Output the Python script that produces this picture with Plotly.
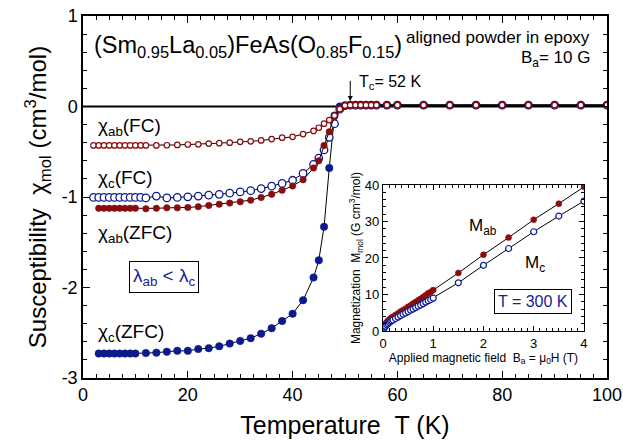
import plotly.graph_objects as go

# ---------------- data (main panel) ----------------
T_fc = [2, 3, 4, 5, 6, 7, 8, 9, 10, 11, 12,
        14, 16, 18, 20, 22, 24, 26, 28, 30, 32, 34, 36, 38, 40, 42, 44,
        45, 46, 47, 48, 49, 50, 51, 52, 53, 54, 55, 56, 58, 60,
        65, 70, 75, 80, 85, 90, 95, 100]
T_zfc = [3, 4, 5, 6, 7, 8, 9, 10, 12,
         14, 16, 18, 20, 22, 24, 26, 28, 30, 32, 34, 36, 38, 40, 42, 44,
         45, 46, 47, 48, 49, 50, 51, 52, 53, 54, 55, 56, 58, 60,
         65, 70, 75, 80, 85, 90, 95, 100]

chi_ab_fc = [-0.43, -0.43, -0.43, -0.43, -0.43, -0.43, -0.43, -0.43, -0.43, -0.43, -0.43,
             -0.43, -0.428, -0.425, -0.42, -0.418, -0.41, -0.405, -0.40, -0.39, -0.385, -0.375,
             -0.36, -0.345, -0.335, -0.305, -0.27,
             -0.235, -0.19, -0.15, -0.10, -0.03, 0.01, 0.015, 0.015, 0.015, 0.015, 0.015, 0.015,
             0.015, 0.015, 0.015, 0.015, 0.015, 0.015, 0.015, 0.015, 0.015, 0.015]
chi_c_fc = [-1.005, -1.005, -1.005, -1.005, -1.005, -1.005, -1.005, -1.005, -1.005, -1.005, -1.01,
            -0.99, -1.01, -1.005, -0.998, -0.99, -0.98, -0.97, -0.958, -0.944, -0.93, -0.907,
            -0.88, -0.85, -0.815, -0.74, -0.64,
            -0.57, -0.48, -0.34, -0.19, -0.03, 0.01, 0.015, 0.015, 0.015, 0.015, 0.015, 0.015,
            0.015, 0.015, 0.015, 0.015, 0.015, 0.015, 0.015, 0.015, 0.015, 0.015]
chi_ab_zfc = [-1.125, -1.125, -1.125, -1.125, -1.125, -1.125, -1.125, -1.125, -1.13,
              -1.125, -1.12, -1.12, -1.115, -1.107, -1.093, -1.08, -1.067, -1.053, -1.035, -1.005,
              -0.97, -0.925, -0.878, -0.81, -0.68,
              -0.60, -0.43, -0.28, -0.11, -0.02, 0.01, 0.015, 0.015, 0.015, 0.015, 0.015, 0.015,
              0.015, 0.015, 0.015, 0.015, 0.015, 0.015, 0.015, 0.015, 0.015, 0.015]
chi_c_zfc = [-2.73, -2.73, -2.73, -2.73, -2.73, -2.73, -2.73, -2.73, -2.725,
             -2.72, -2.71, -2.70, -2.70, -2.68, -2.67, -2.65, -2.62, -2.59, -2.56, -2.51,
             -2.45, -2.37, -2.29, -2.14, -1.89,
             -1.70, -1.33, -0.68, -0.10, 0.0, 0.01, 0.015, 0.015, 0.015, 0.015, 0.015, 0.015,
             0.015, 0.015, 0.015, 0.015, 0.015, 0.015, 0.015, 0.015, 0.015, 0.015]

# ---------------- data (inset) ----------------
B_field = [0.0, 0.01, 0.02, 0.035, 0.05, 0.075, 0.1, 0.125, 0.15, 0.175, 0.2, 0.25, 0.3, 0.35,
           0.4, 0.45, 0.5, 0.55, 0.6, 0.65, 0.7, 0.75, 0.8, 0.85, 0.9, 0.95, 1.0,
           1.5, 2.0, 2.5, 3.0, 3.5, 4.0]
M_ab = [0.5, 1.0, 1.3, 1.7, 2.0, 2.4, 2.8, 3.1, 3.4, 3.65, 3.9, 4.4, 4.8, 5.3,
        5.7, 6.1, 6.6, 7.0, 7.5, 7.9, 8.4, 8.8, 9.3, 9.8, 10.3, 10.7, 11.2,
        15.9, 20.9, 25.6, 30.5, 34.9, 39.5]
M_c = [0.3, 0.6, 0.8, 1.1, 1.3, 1.7, 2.0, 2.3, 2.6, 2.8, 3.0, 3.4, 3.8, 4.2,
       4.6, 4.9, 5.3, 5.7, 6.0, 6.4, 6.8, 7.1, 7.5, 7.9, 8.3, 8.6, 9.0,
       13.2, 18.0, 22.6, 27.2, 31.5, 35.6]

y_tickvals = [-3, -2, -1, 0, 1]
y_ticktext = ["-3", "-2", "-1", "0", "1"]
x_tickvals = [0, 20, 40, 60, 80, 100]

RED = "#8b0c0c"
BLUE = "#0c1a8e"
TXTBLUE = "#1a2096"
FONT = "Liberation Sans, Arial, sans-serif"

fig = go.Figure()

line_style = dict(color="black", width=1)

fig.add_trace(go.Scatter(x=T_zfc, y=chi_c_zfc, mode="lines+markers", line=line_style,
                         marker=dict(symbol="circle", size=7.5, color=BLUE,
                                     line=dict(color=BLUE, width=0.5)),
                         name="chi_c ZFC"))
fig.add_trace(go.Scatter(x=T_fc, y=chi_c_fc, mode="lines+markers", line=line_style,
                         marker=dict(symbol="circle", size=7.5, color="white",
                                     line=dict(color=BLUE, width=1.3)),
                         name="chi_c FC"))
fig.add_trace(go.Scatter(x=T_zfc, y=chi_ab_zfc, mode="lines+markers", line=line_style,
                         marker=dict(symbol="circle", size=6.5, color=RED,
                                     line=dict(color=RED, width=0.5)),
                         name="chi_ab ZFC"))
fig.add_trace(go.Scatter(x=T_fc, y=chi_ab_fc, mode="lines+markers", line=line_style,
                         marker=dict(symbol="circle", size=5.5, color="white",
                                     line=dict(color=RED, width=1.2)),
                         name="chi_ab FC"))

# inset traces
fig.add_trace(go.Scatter(x=B_field, y=M_ab, xaxis="x2", yaxis="y2", mode="lines+markers",
                         line=line_style,
                         marker=dict(symbol="circle", size=6, color=RED,
                                     line=dict(color=RED, width=0.5))))
fig.add_trace(go.Scatter(x=B_field, y=M_c, xaxis="x2", yaxis="y2", mode="lines+markers",
                         line=line_style,
                         marker=dict(symbol="circle", size=6, color="white",
                                     line=dict(color=BLUE, width=1.2))))

# zero line
fig.add_shape(type="line", xref="x", yref="y", x0=0, x1=100, y0=0, y1=0,
              line=dict(color="black", width=2), layer="below")

main_axis_common = dict(showline=True, linecolor="black", linewidth=1.5, mirror="allticks",
                        ticks="inside", ticklen=7, tickwidth=1.2, tickcolor="black",
                        showgrid=False, zeroline=False, automargin=False,
                        tickfont=dict(family=FONT, size=18, color="black"))

fig.update_layout(
    template="none",
    width=623, height=445,
    margin=dict(l=83, r=16, t=16, b=67, autoexpand=False),
    paper_bgcolor="white", plot_bgcolor="white",
    showlegend=False,
    font=dict(family=FONT, color="black"),
    xaxis=dict(range=[0, 100], tickmode="array", tickvals=x_tickvals,
               minor=dict(tickmode="linear", tick0=0, dtick=2.5, ticks="inside", ticklen=4,
                          tickwidth=1, tickcolor="black"),
               title=dict(text="Temperature\u00a0\u00a0T (K)", font=dict(size=25), standoff=12),
               **main_axis_common),
    yaxis=dict(range=[-3, 1], tickmode="array", tickvals=y_tickvals, ticktext=y_ticktext,
               minor=dict(tickmode="linear", tick0=0, dtick=0.2, ticks="inside", ticklen=4,
                          tickwidth=1, tickcolor="black"),
               title=dict(text="Susceptibility\u00a0\u00a0χ<sub>mol</sub> (cm<sup>3</sup>/mol)",
                          font=dict(size=24), standoff=8),
               **main_axis_common),
    xaxis2=dict(domain=[0.5725, 0.956], anchor="y2", range=[0, 4], dtick=1,
                showline=True, linecolor="black", linewidth=1.2, mirror="allticks",
                ticks="inside", ticklen=5, tickwidth=1, tickcolor="black",
                minor=dict(tickmode="linear", tick0=0, dtick=0.125, ticks="inside", ticklen=3,
                           tickwidth=1, tickcolor="black"),
                showgrid=False, zeroline=False, automargin=False,
                tickfont=dict(family=FONT, size=13, color="black"),
                title=dict(text="Applied magnetic field\u00a0\u00a0B<sub>a</sub> = μ<sub>0</sub>H (T)",
                           font=dict(size=12), standoff=3)),
    yaxis2=dict(domain=[0.13, 0.533], anchor="x2", range=[0, 40], dtick=10,
                showline=True, linecolor="black", linewidth=1.2, mirror="allticks",
                ticks="inside", ticklen=5, tickwidth=1, tickcolor="black",
                minor=dict(tickmode="linear", tick0=0, dtick=2, ticks="inside", ticklen=3,
                           tickwidth=1, tickcolor="black"),
                showgrid=False, zeroline=False, automargin=False,
                tickfont=dict(family=FONT, size=13, color="black"),
                title=dict(text="Magnetization\u00a0\u00a0M<sub>mol</sub> (G cm<sup>3</sup>/mol)",
                           font=dict(size=12), standoff=1)),
)

ann = []
def add_text(x, y, text, size, xanchor="left", yanchor="middle", color="black", xref="x", yref="y", **kw):
    ann.append(dict(x=x, y=y, xref=xref, yref=yref, text=text, showarrow=False,
                    xanchor=xanchor, yanchor=yanchor,
                    font=dict(family=FONT, size=size, color=color), **kw))

add_text(1.7, 0.66, "(Sm<sub>0.95</sub>La<sub>0.05</sub>)FeAs(O<sub>0.85</sub>F<sub>0.15</sub>)", 23.5)
add_text(97.2, 0.76, "aligned powder in epoxy", 17, xanchor="right")
add_text(97.2, 0.52, "B<sub>a</sub>= 10 G", 17, xanchor="right")
add_text(52.3, 0.26, "T<sub>c</sub>= 52 K", 16)
add_text(2.5, -0.23, "χ<sub>ab</sub>(FC)", 19)
add_text(2.5, -0.80, "χ<sub>c</sub>(FC)", 19)
add_text(2.5, -1.41, "χ<sub>ab</sub>(ZFC)", 19)
add_text(2.5, -2.50, "χ<sub>c</sub>(ZFC)", 19)
add_text(15.5, -1.88, "λ<sub>ab</sub> < λ<sub>c</sub>", 19, xanchor="center", color=TXTBLUE,
         bordercolor="black", borderwidth=1, borderpad=3, bgcolor="white")
add_text(1.68, 28.6, "M<sub>ab</sub>", 17, xref="x2", yref="y2")
add_text(2.79, 18.4, "M<sub>c</sub>", 17, xref="x2", yref="y2")
add_text(2.99, 8.0, "T = 300 K", 16, xanchor="center", color=TXTBLUE, xref="x2", yref="y2",
         bordercolor="black", borderwidth=1, borderpad=3, bgcolor="white")

# Tc arrow
ann.append(dict(x=51, y=0.06, xref="x", yref="y", ax=51, ay=0.3, axref="x", ayref="y",
                showarrow=True, arrowhead=2, arrowsize=1, arrowwidth=1, arrowcolor="black", text=""))

fig.update_layout(annotations=ann)

fig.write_html("out.html", config={"displayModeBar": False},
               post_script="document.body.style.margin='0';document.body.style.overflow='hidden';")
